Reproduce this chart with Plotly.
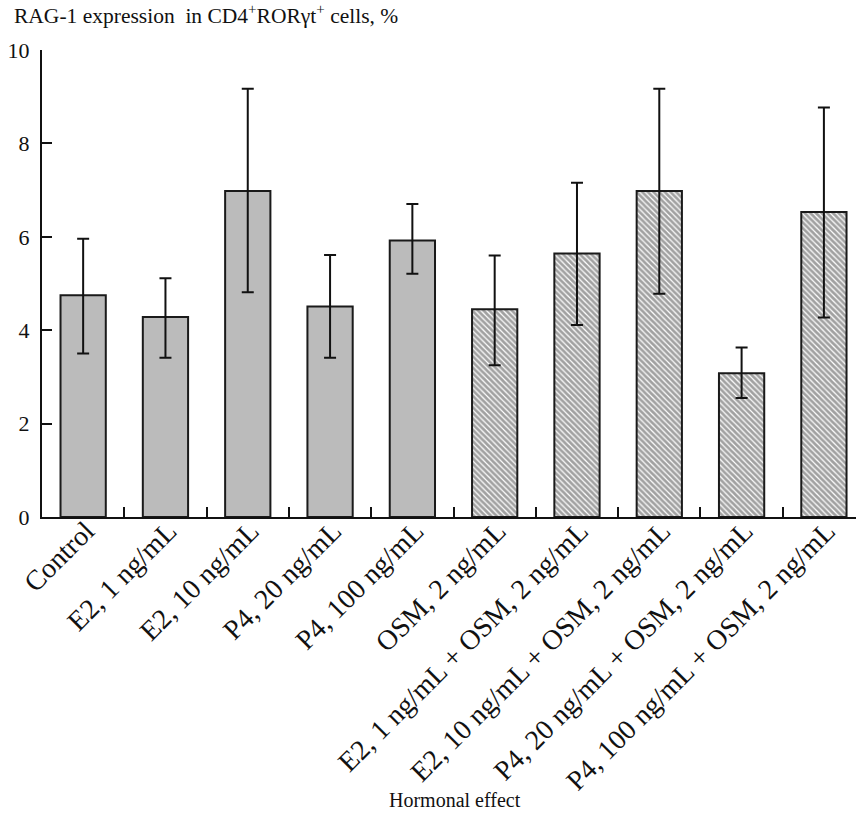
import plotly.graph_objects as go

categories = ["Control", "E2, 1 ng/mL", "E2, 10 ng/mL", "P4, 20 ng/mL", "P4, 100 ng/mL",
              "OSM, 2 ng/mL", "E2, 1 ng/mL + OSM, 2 ng/mL", "E2, 10 ng/mL + OSM, 2 ng/mL",
              "P4, 20 ng/mL + OSM, 2 ng/mL", "P4, 100 ng/mL + OSM, 2 ng/mL"]
values = [4.75, 4.28, 6.98, 4.51, 5.92, 4.45, 5.64, 6.98, 3.08, 6.53]
err_high = [5.96, 5.11, 9.17, 5.61, 6.70, 5.60, 7.16, 9.17, 3.63, 8.77]
err_low = [3.50, 3.41, 4.81, 3.41, 5.21, 3.25, 4.11, 4.78, 2.55, 4.27]
hatched = [False, False, False, False, False, True, True, True, True, True]
y_ticks = [0, 2, 4, 6, 8, 10]

plus = [h - v for h, v in zip(err_high, values)]
minus = [v - l for v, l in zip(values, err_low)]
idx = list(range(len(categories)))

FONT = "Liberation Serif"
XRANGE = [-0.5, 9.39]

fig = go.Figure()
fig.add_trace(go.Bar(
    x=categories, y=values, width=0.55,
    marker=dict(
        color=["white" if h else "#bbbbbb" for h in hatched],
        line=dict(color="#1a1a1a", width=2),
        pattern=dict(
            shape=["\\" if h else "" for h in hatched],
            fgcolor="#151515", bgcolor="white", size=4, solidity=0.7,
        ),
    ),
    error_y=dict(type="data", symmetric=False, array=plus, arrayminus=minus,
                 color="#111111", thickness=2, width=6),
    showlegend=False, hoverinfo="skip",
))
# invisible carrier trace for the label axis
fig.add_trace(go.Scatter(x=idx, y=values, xaxis="x2", mode="markers",
                         marker=dict(opacity=0), showlegend=False, hoverinfo="skip"))

fig.update_layout(
    width=856, height=835,
    margin=dict(l=42, r=0, t=50, b=318, autoexpand=False),
    paper_bgcolor="white", plot_bgcolor="white",
    font=dict(family=FONT, size=20, color="#111111"),
    bargap=0.45,
    xaxis=dict(
        type="category", range=XRANGE, automargin=False,
        showline=True, linecolor="#111111", linewidth=2,
        ticks="inside", tickson="boundaries", ticklen=10, tickwidth=2, tickcolor="#111111",
        showticklabels=False, showgrid=False, zeroline=False,
    ),
    xaxis2=dict(
        overlaying="x", anchor="free", position=9 / 467, side="bottom",
        range=XRANGE, automargin=False, tickvals=idx, ticktext=categories,
        tickangle=-45, tickfont=dict(family=FONT, size=28), ticklabelshift=3,
        showline=False, ticks="", showgrid=False, zeroline=False,
    ),
    yaxis=dict(
        range=[0, 10], tickvals=y_ticks, automargin=False,
        showline=True, linecolor="#111111", linewidth=2,
        ticks="inside", ticklen=10, tickwidth=2, tickcolor="#111111",
        tickfont=dict(family=FONT, size=22), ticklabelstandoff=6,
        showgrid=False, zeroline=False,
    ),
)
fig.add_annotation(
    text="RAG-1 expression  in CD4<sup>+</sup>RORγt<sup>+</sup> cells, %",
    xref="paper", yref="paper", x=0, y=1, xanchor="left", yanchor="middle",
    xshift=-30, yshift=36, showarrow=False, font=dict(family=FONT, size=21.5),
)
fig.add_annotation(
    text="Hormonal effect",
    xref="paper", yref="paper", x=(455 - 42) / 814, y=(517 - 800) / 467,
    xanchor="center", yanchor="middle", showarrow=False, font=dict(family=FONT, size=20),
)

fig.write_html("out.html", config={"displayModeBar": False},
               post_script="document.body.style.margin='0';")
